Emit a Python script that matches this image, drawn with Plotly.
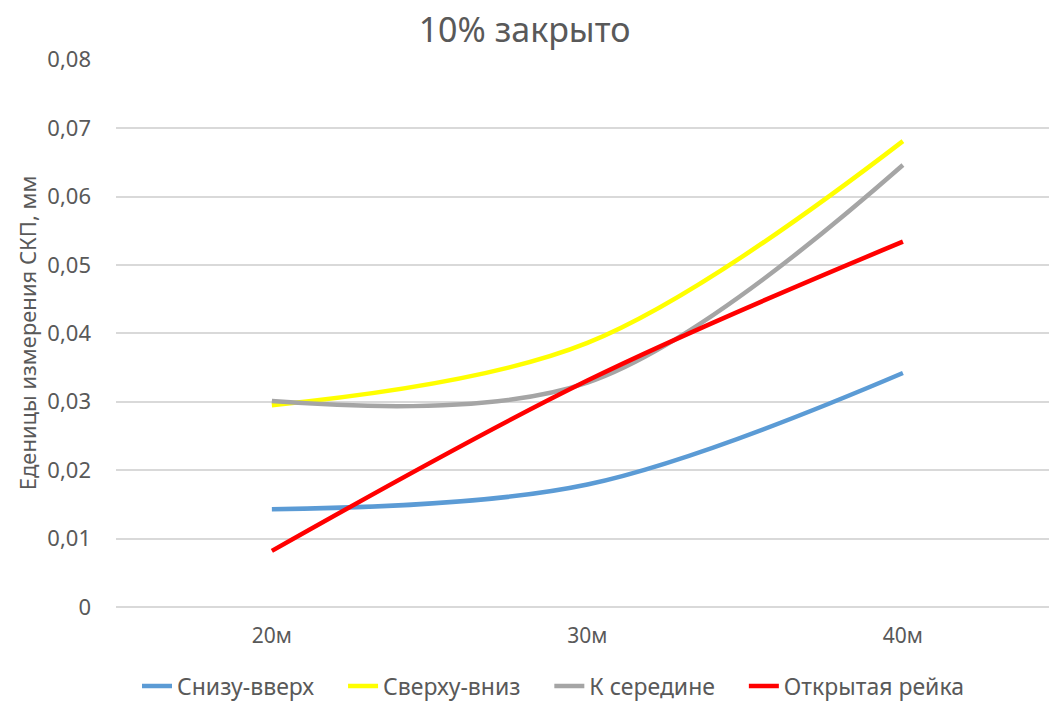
import plotly.graph_objects as go

categories = ["20м", "30м", "40м"]
series_names = ["Снизу-вверх", "Сверху-вниз", "К середине", "Открытая рейка"]
snizu_vverh = [0.0143, 0.0179, 0.0342]
sverhu_vniz = [0.0295, 0.0386, 0.0681]
k_seredine = [0.0301, 0.0328, 0.0646]
otkrytaya = [0.0082, 0.0331, 0.0534]
y_tick_vals = [0, 0.01, 0.02, 0.03, 0.04, 0.05, 0.06, 0.07, 0.08]
y_tick_text = ["0", "0,01", "0,02", "0,03", "0,04", "0,05", "0,06", "0,07", "0,08"]

colors = ["#5B9BD5", "#FFFF00", "#A5A5A5", "#FF0000"]
values = [snizu_vverh, sverhu_vniz, k_seredine, otkrytaya]

FONT = "Noto Sans, Open Sans, sans-serif"
GRAY = "#595959"
PAD = "\u00a0" * 4

fig = go.Figure()
for name, vals, c in zip(series_names, values, colors):
    fig.add_trace(go.Scatter(
        x=[0, 1, 2], y=vals, name=name + PAD, mode="lines",
        line=dict(color=c, width=4.5, shape="spline", smoothing=1.0),
    ))

fig.update_layout(
    width=1049, height=702,
    margin=dict(l=116, r=0, t=59, b=95, autoexpand=False),
    paper_bgcolor="white", plot_bgcolor="white",
    font=dict(family=FONT, color=GRAY, size=22),
    title=dict(text="10% закрыто", x=0.5, xanchor="center", y=0.957, yanchor="middle",
               font=dict(size=34, color=GRAY, family=FONT)),
    showlegend=True,
    legend=dict(orientation="h", x=565 / 1049, xref="container", xanchor="center",
                y=16 / 702, yref="container", yanchor="middle",
                font=dict(size=23, color=GRAY, family=FONT), itemwidth=30,
                traceorder="normal"),
    xaxis=dict(range=[-0.494, 2.463], tickvals=[0, 1, 2], ticktext=categories,
               showgrid=False, zeroline=False, showline=False, ticks="",
               ticklabelstandoff=14,
               tickfont=dict(size=21, color=GRAY), fixedrange=True),
    yaxis=dict(range=[0, 0.0801], tickvals=y_tick_vals, ticktext=y_tick_text,
               showgrid=True, gridcolor="#D9D9D9", gridwidth=1.5,
               zeroline=True, zerolinecolor="#D9D9D9", zerolinewidth=1.5,
               showline=False, ticks="", ticklabelstandoff=24,
               tickfont=dict(size=22, color=GRAY),
               title=dict(text="Еденицы измерения СКП, мм", standoff=4,
                          font=dict(size=22, color=GRAY))),
)

fig.write_html("out.html")
